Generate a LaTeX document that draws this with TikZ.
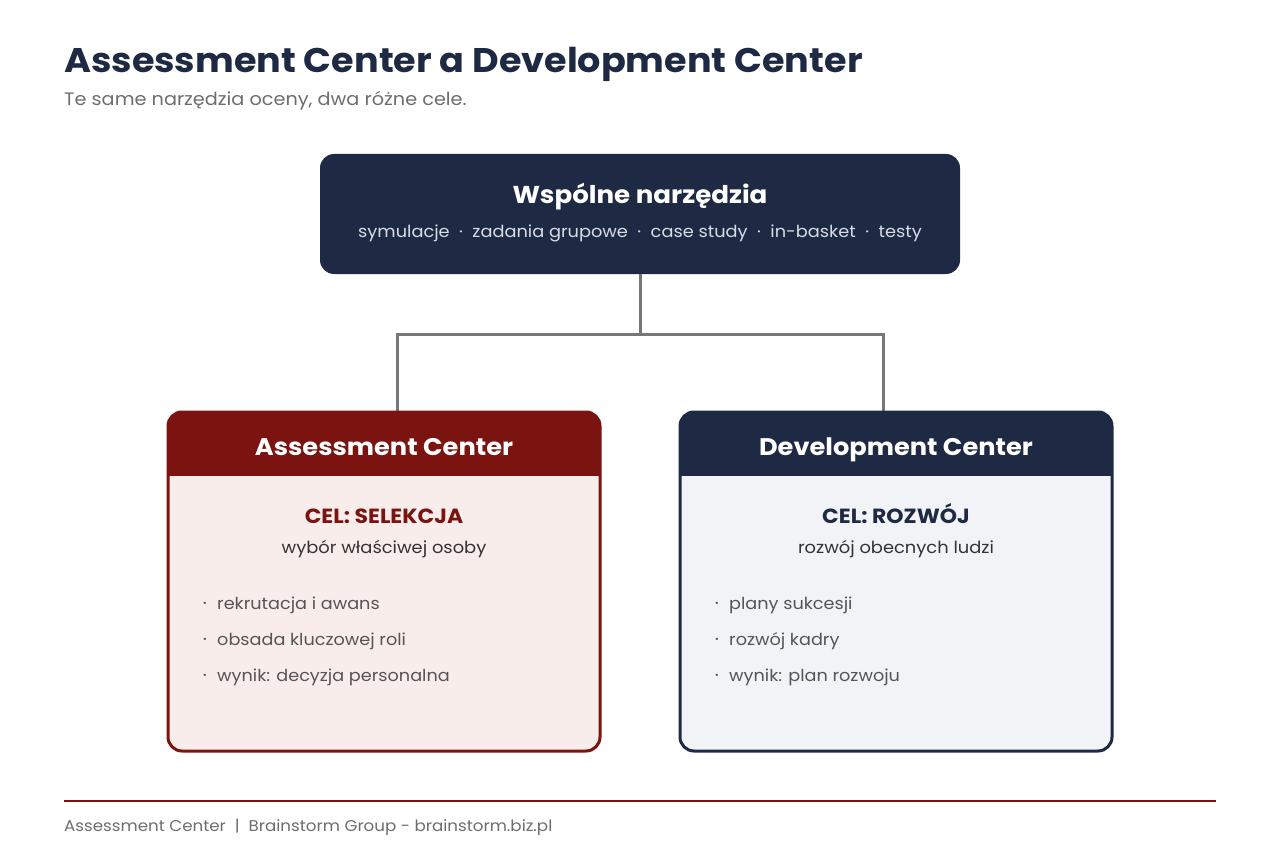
\documentclass[tikz,border=0pt]{standalone}
\usepackage{fontspec}
\setmainfont{Poppins}[FakeStretch=1.07]
\usetikzlibrary{positioning}
\definecolor{navy}{HTML}{1E2A44}
\definecolor{darkred}{HTML}{7B1410}
\definecolor{pinkbg}{HTML}{F9EDEC}
\definecolor{greybg}{HTML}{F1F3F6}
\definecolor{txtgray}{HTML}{555555}
\definecolor{subgray}{HTML}{6E6E6E}
\definecolor{darktxt}{HTML}{333333}
\definecolor{linegray}{HTML}{777777}
\definecolor{tooltxt}{HTML}{D8DCE4}
\tikzset{
  conn/.style={draw=linegray, line width=3pt},
  bodytxt/.style={text=txtgray, font=\fontsize{16.5}{20}\selectfont, anchor=base west, inner sep=0pt},
  bul/.style={text=txtgray, font=\fontsize{18}{20}\selectfont, anchor=base, inner sep=0pt},
  headtxt/.style={text=white, font=\fontsize{24}{28}\bfseries\selectfont, anchor=base, inner sep=0pt},
  goaltxt/.style={font=\fontsize{20.5}{24}\bfseries\selectfont, anchor=base, inner sep=0pt},
  subtxt/.style={text=darktxt, font=\fontsize{16.7}{20}\selectfont, anchor=base, inner sep=0pt},
}
\begin{document}
\begin{tikzpicture}[x=1pt,y=-1pt]
\useasboundingbox (0,0) rectangle (1280,845);
\fill[white] (0,0) rectangle (1280,845);
% title
\node[anchor=base west, inner sep=0pt, text=navy, font=\fontsize{34.2}{40}\bfseries\selectfont] (title) at (64,73) {Assessment Center a Development Center};
\node[anchor=base west, inner sep=0pt, text=subgray, font=\fontsize{18}{22}\selectfont] (subtitle) at (64,106) {Te same narzędzia oceny, dwa różne cele.};
% top box
\fill[navy, rounded corners=14pt] (320,154) rectangle (960,274);
\coordinate (topc) at (640,274);
\node[text=white, font=\fontsize{24.4}{30}\bfseries\selectfont, inner sep=0pt, anchor=base] (tools) at (640,204) {Wspólne narzędzia};
\node[text=tooltxt, font=\fontsize{16.6}{20}\selectfont, inner sep=0pt, anchor=base] (toollist) at (640,238) {symulacje\ \ ·\ \ zadania grupowe\ \ ·\ \ case study\ \ ·\ \ in-basket\ \ ·\ \ testy};
% connectors
\coordinate (acin) at (397,412);
\coordinate (dcin) at (883,412);
\coordinate (split) at (640,334);
\draw[conn] (topc) -- (split) -| (acin);
\draw[conn] (split) -| (dcin);
% left box
\path[fill=pinkbg, rounded corners=14pt] (168,412) rectangle (600,751);
\path[fill=darkred, rounded corners=14pt] (168,412) rectangle (600,460);
\fill[darkred] (168,440) rectangle (600,476);
\draw[darkred, line width=3pt, rounded corners=14pt] (168,412) rectangle (600,751);
\node[headtxt] (ac) at (384,455) {Assessment Center};
\node[goaltxt, text=darkred] (acgoal) at (384,523) {CEL: SELEKCJA};
\node[subtxt] (acsub) at (384,553) {wybór właściwej osoby};
\node[bul] (ab1) at (205,609) {·};
\node[bodytxt] (a1) at (217,609) {rekrutacja i awans};
\node[bul] (ab2) at (205,645) {·};
\node[bodytxt] (a2) at (217,645) {obsada kluczowej roli};
\node[bul] (ab3) at (205,681) {·};
\node[bodytxt] (a3) at (217,681) {wynik: decyzja personalna};
% right box
\path[fill=greybg, rounded corners=14pt] (680,412) rectangle (1112,751);
\path[fill=navy, rounded corners=14pt] (680,412) rectangle (1112,460);
\fill[navy] (680,440) rectangle (1112,476);
\draw[navy, line width=3pt, rounded corners=14pt] (680,412) rectangle (1112,751);
\node[headtxt] (dc) at (896,455) {Development Center};
\node[goaltxt, text=navy] (dcgoal) at (896,523) {CEL: ROZWÓJ};
\node[subtxt] (dcsub) at (896,553) {rozwój obecnych ludzi};
\node[bul] (db1) at (717,609) {·};
\node[bodytxt] (d1) at (729,609) {plany sukcesji};
\node[bul] (db2) at (717,645) {·};
\node[bodytxt] (d2) at (729,645) {rozwój kadry};
\node[bul] (db3) at (717,681) {·};
\node[bodytxt] (d3) at (729,681) {wynik: plan rozwoju};
% footer
\coordinate (fl) at (64,801);
\coordinate (fr) at (1216,801);
\draw[darkred, line width=2.5pt] (fl) -- (fr);
\node[anchor=base west, inner sep=0pt, text=subgray, font=\fontsize{15.6}{19}\selectfont] (footer) at (64,831) {Assessment Center\ \ |\ \ Brainstorm Group - brainstorm.biz.pl};
\end{tikzpicture}
\end{document}
